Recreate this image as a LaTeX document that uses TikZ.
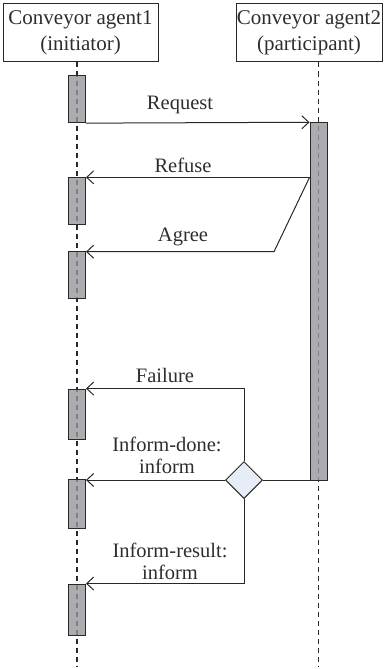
\documentclass[tikz,border=0pt]{standalone}
\usepackage{fontspec}
\setmainfont{Liberation Serif}
\usetikzlibrary{arrows.meta,shapes.geometric}
\definecolor{ink}{RGB}{40,40,40}
\definecolor{txt}{RGB}{45,45,45}
\definecolor{barfill}{RGB}{150,150,156}
\definecolor{dfill}{RGB}{230,237,246}
\tikzset{
  hdr/.style={draw=ink, line width=1pt, minimum width=#1, minimum height=58pt, inner sep=0pt, align=center, font=\fontsize{21}{26}\selectfont, text=txt},
  lifeline/.style={draw=ink, line width=1.3pt, dash pattern=on 5pt off 4pt},
  actbar/.style={draw=ink, line width=0.9pt, fill=barfill, fill opacity=0.8, draw opacity=1, minimum width=17pt, minimum height=#1, inner sep=0pt},
  msg/.style={draw=ink, line width=1pt, -{Straight Barb[length=7pt,width=13pt,line width=1pt]}},
  wire/.style={draw=ink, line width=1pt},
  lbl/.style={font=\fontsize{20.5}{22}\selectfont, text=txt, align=center, inner sep=0pt},
  choice/.style={diamond, draw=ink, line width=1pt, fill=dfill, minimum width=37pt, minimum height=37pt, inner sep=0pt, aspect=1}
}
\begin{document}
\begin{tikzpicture}[x=1pt,y=-1pt]
\useasboundingbox (0,0) rectangle (383,669);
% headers
\node[hdr=155pt] (h1) at (80.5,33) {Conveyor agent1\\(initiator)};
\node[hdr=146pt] (h2) at (309,33) {Conveyor agent2\\(participant)};
% lifelines
\coordinate (e1) at (77,667);
\coordinate (e2) at (318.5,667);
\draw[lifeline] (h1.south -| e1) -- (e1);
\draw[lifeline] (h2.south -| e2) -- (e2);
% activation bars
\node[actbar=47pt] (b1) at (77,99.2) {};
\node[actbar=47pt] (b2) at (77,201.3) {};
\node[actbar=47pt] (b3) at (77,275.3) {};
\node[actbar=50pt] (b4) at (77,414) {};
\node[actbar=49pt] (b5) at (77,503.5) {};
\node[actbar=51pt] (b6) at (77,609.5) {};
\node[actbar=358pt] (p) at (318.5,301.7) {};
% choice
\node[choice] (d) at (244,480) {};
% messages
\draw[msg] (b1.south east) -- (p.north west);
\node[lbl] (lreq) at (180,105) {Request};
\draw[msg] (p.west |- b2.north) -- (b2.north east);
\node[lbl] (lref) at (183,165) {Refuse};
\coordinate (ak) at (274,251.7);
\draw[msg] (p.west |- b2.north) -- (ak) -- (ak -| b3.east);
\node[lbl] (lagr) at (183,237) {Agree};
\draw[wire] (d.east) -- (d.east -| p.west);
\draw[msg] (d.north) -- (d.north |- b4.north) -- (b4.north east);
\node[lbl] (lfail) at (165,375) {Failure};
\draw[msg] (d.west) -- (d.west -| b5.east);
\node[lbl] (ldone) at (167,455) {Inform-done:\\inform};
\draw[msg] (d.south) -- (d.south |- b6.north) -- (b6.north east);
\node[lbl] (lres) at (170,561) {Inform-result:\\inform};
\end{tikzpicture}
\end{document}
